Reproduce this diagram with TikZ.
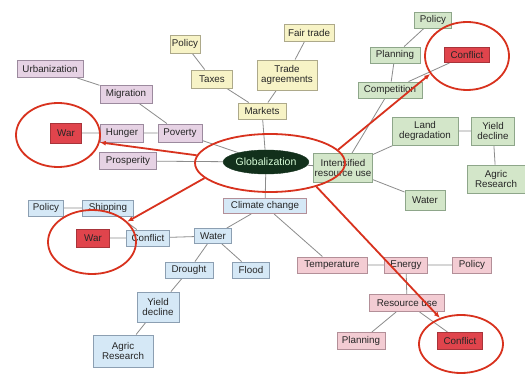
\documentclass[tikz,border=0pt]{standalone}
\usepackage{fontspec}
\setmainfont{Liberation Sans}
\usetikzlibrary{shapes.geometric,arrows.meta,backgrounds}

\definecolor{lavfill}{HTML}{E6D2E4}\definecolor{lavdraw}{HTML}{9C8A9E}
\definecolor{yelfill}{HTML}{F7F3C6}\definecolor{yeldraw}{HTML}{ADA98A}
\definecolor{grnfill}{HTML}{D3E6C9}\definecolor{grndraw}{HTML}{8EA68A}
\definecolor{blufill}{HTML}{D5E8F6}\definecolor{bludraw}{HTML}{8C9FB2}
\definecolor{pnkfill}{HTML}{F3CCD3}\definecolor{pnkdraw}{HTML}{B38F98}
\definecolor{redfill}{HTML}{E0444C}\definecolor{reddraw}{HTML}{A8343A}
\definecolor{globfill}{HTML}{12301B}
\definecolor{ringred}{HTML}{D8321E}
\definecolor{linkgray}{HTML}{8C8C8C}
\definecolor{txt}{HTML}{262626}

\tikzset{
  box/.style={rectangle, line width=0.9pt, inner xsep=0.5pt, inner ysep=1pt,
    align=center, text=txt, font=\fontsize{9.8}{10.4}\selectfont},
  lav/.style={box, fill=lavfill, draw=lavdraw},
  yel/.style={box, fill=yelfill, draw=yeldraw},
  grn/.style={box, fill=grnfill, draw=grndraw},
  blu/.style={box, fill=blufill, draw=bludraw},
  pnk/.style={box, fill=pnkfill, draw=pnkdraw},
  hot/.style={box, fill=redfill, draw=reddraw},
  clim/.style={box, fill=blufill, draw=pnkdraw},
  glob/.style={ellipse, fill=globfill, draw=globfill, inner sep=0pt,
    text=white!85!green, font=\fontsize{10.5}{11}\selectfont},
  ring/.style={ellipse, draw=ringred, line width=1.8pt, inner sep=0pt},
  link/.style={draw=linkgray, line width=0.8pt},
  alarm/.style={draw=ringred, line width=1.8pt, -{Latex[length=6pt,width=5pt]}}
}

\begin{document}
\begin{tikzpicture}[x=1pt, y=-1pt]
\useasboundingbox (0,0) rectangle (525,374);

% central concept
\node[glob, minimum width=80, minimum height=24] (glb) at (266,162) {Globalization};

% social branch
\node[lav, minimum width=66, minimum height=17] (urb)  at (50,69)   {Urbanization};
\node[lav, minimum width=52, minimum height=18] (mig)  at (126,94)  {Migration};
\node[lav, minimum width=43, minimum height=18] (hun)  at (122,133) {Hunger};
\node[lav, minimum width=44, minimum height=18] (pov)  at (180,133) {Poverty};
\node[lav, minimum width=57, minimum height=17] (pros) at (128,161) {Prosperity};
\node[hot, minimum width=31, minimum height=20] (warA) at (66,133)  {War};

% trade branch
\node[yel, minimum width=30, minimum height=18] (polA)  at (185,44)  {Policy};
\node[yel, minimum width=41, minimum height=18] (tax)   at (212,79)  {Taxes};
\node[yel, minimum width=50, minimum height=17] (fair)  at (309,33)  {Fair trade};
\node[yel, minimum width=60, minimum height=30] (trade) at (287,75)  {Trade\\agreements};
\node[yel, minimum width=48, minimum height=16] (mkt)   at (262,111) {Markets};

% resource branch
\node[grn, minimum width=37, minimum height=16] (polB)   at (433,20)  {Policy};
\node[grn, minimum width=50, minimum height=16] (planA)  at (395,55)  {Planning};
\node[hot, minimum width=45, minimum height=15] (confA)  at (467,55)  {Conflict};
\node[grn, minimum width=64, minimum height=16] (comp)   at (390,90)  {Competition};
\node[grn, minimum width=66, minimum height=28] (land)   at (425,131) {Land\\degradation};
\node[grn, minimum width=43, minimum height=28] (yldA)   at (493,131) {Yield\\decline};
\node[grn, minimum width=58, minimum height=28] (agrA)   at (496,179) {Agric\\Research};
\node[grn, minimum width=59, minimum height=29] (intens) at (343,168) {Intensified\\resource use};
\node[grn, minimum width=40, minimum height=20] (watA)   at (425,200) {Water};

% climate branch
\node[clim, minimum width=83, minimum height=15] (clim) at (265,206) {Climate change};
\node[blu, minimum width=35, minimum height=16] (polC)  at (46,208)  {Policy};
\node[blu, minimum width=51, minimum height=16] (ship)  at (108,208) {Shipping};
\node[hot, minimum width=33, minimum height=18] (warB)  at (93,238)  {War};
\node[blu, minimum width=43, minimum height=16] (confB) at (148,238) {Conflict};
\node[blu, minimum width=37, minimum height=15] (watB)  at (213,236) {Water};
\node[blu, minimum width=48, minimum height=16] (dro)   at (189,270) {Drought};
\node[blu, minimum width=37, minimum height=16] (flood) at (251,270) {Flood};
\node[blu, minimum width=42, minimum height=30] (yldB)  at (158,307) {Yield\\decline};
\node[blu, minimum width=60, minimum height=32] (agrB)  at (123,351) {Agric\\Research};

\node[pnk, minimum width=70, minimum height=16] (temp)  at (332,265) {Temperature};
\node[pnk, minimum width=43, minimum height=16] (ener)  at (406,265) {Energy};
\node[pnk, minimum width=39, minimum height=16] (polD)  at (472,265) {Policy};
\node[pnk, minimum width=75, minimum height=17] (res)   at (407,303) {Resource use};
\node[pnk, minimum width=48, minimum height=17] (planB) at (361,341) {Planning};
\node[hot, minimum width=45, minimum height=17] (confC) at (460,341) {Conflict};

% white page and grey links between concepts, behind the boxes
\begin{scope}[on background layer]
\fill[white] (0,0) rectangle (525,374);
\path[link] (urb) -- (mig) (mig) -- (pov) (warA) -- (hun) (hun) -- (pov)
  (pov) -- (glb) (pros) -- (glb)
  (polA) -- (tax) (tax) -- (mkt) (fair) -- (trade) (trade) -- (mkt) (mkt) -- (glb)
  (glb) -- (intens) (intens) -- (comp) (comp) -- (planA) (planA) -- (polB)
  (comp) -- (confA) (intens) -- (land) (land) -- (yldA) (yldA) -- (agrA)
  (intens) -- (watA)
  (glb) -- (clim) (clim) -- (watB) (clim) -- (temp)
  (watB) -- (confB) (confB) -- (warB) (confB) -- (ship) (ship) -- (polC)
  (watB) -- (dro) (watB) -- (flood) (dro) -- (yldB) (yldB) -- (agrB)
  (temp) -- (ener) (ener) -- (polD) (ener) -- (res) (res) -- (planB) (res) -- (confC);
\end{scope}

% red rings and the arrows between them
\node[ring, minimum width=150, minimum height=58] (gl)  at (270,163) {};
\node[ring, minimum width=84,  minimum height=64] (rgA) at (58,135)  {};
\node[ring, minimum width=88,  minimum height=64] (rgB) at (92,242)  {};
\node[ring, minimum width=84,  minimum height=68] (rgC) at (467,56)  {};
\node[ring, minimum width=84,  minimum height=58] (rgD) at (461,344) {};

\draw[alarm] (gl.174) -- (rgA.-10);
\draw[alarm] (gl.193) -- (rgB.30);
\draw[alarm] (gl.11)  -- (rgC.206);
\draw[alarm] (gl.-27) -- (rgD.129);
\end{tikzpicture}
\end{document}
